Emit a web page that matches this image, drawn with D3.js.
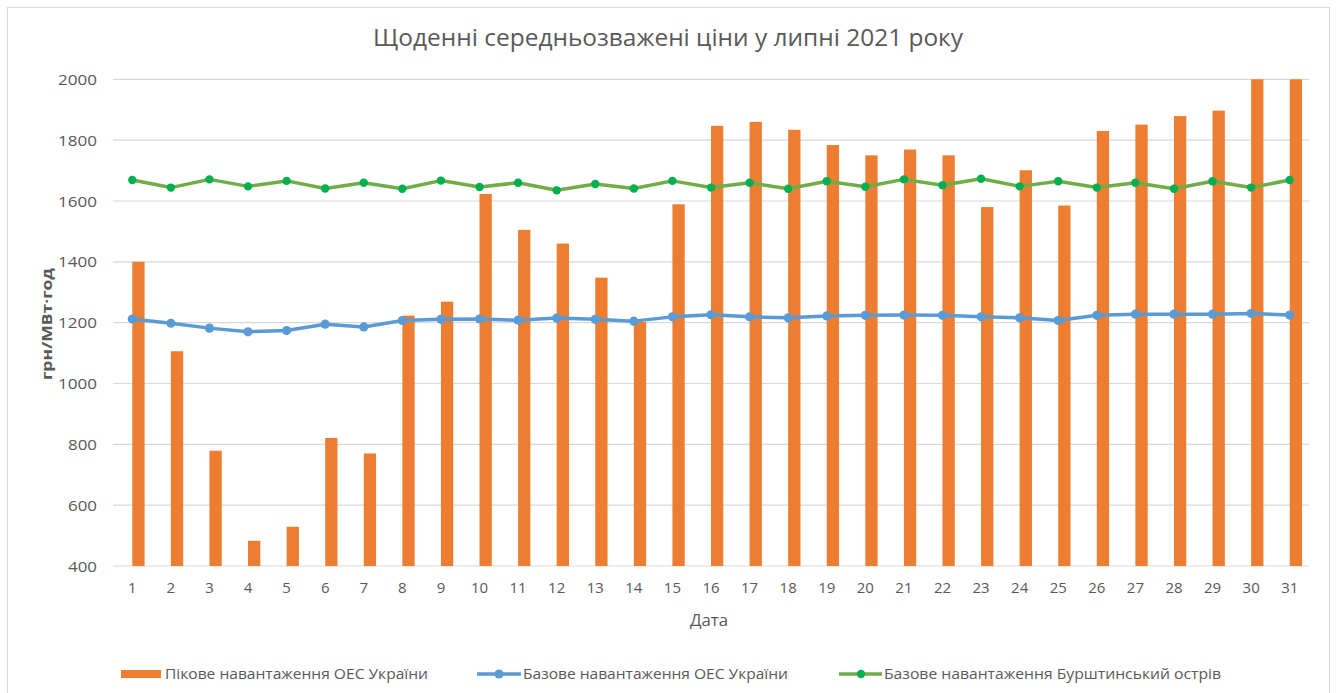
<!DOCTYPE html>
<html>
<head>
<meta charset="utf-8">
<script src="https://cdn.jsdelivr.net/npm/d3@7"></script>
<style>
  html, body { margin: 0; padding: 0; background: #ffffff; }
  svg { display: block; }
  text { font-family: "Open Sans", "DejaVu Sans", sans-serif; fill: #595959; }
</style>
</head>
<body>
<svg id="chart" width="1336" height="693"></svg>
<script>
const title = "Щоденні середньозважені ціни у липні 2021 року";
const yTitle = "грн/МВт·год";
const xTitle = "Дата";
const days = d3.range(1, 32).map(String);
const seriesNames = [
  "Пікове навантаження ОЕС України",
  "Базове навантаження ОЕС України",
  "Базове навантаження Бурштинський острів"
];
const peakUA = [1400, 1106, 779, 483, 529, 821, 770, 1223, 1269, 1623, 1505, 1460, 1348, 1202, 1589, 1847, 1860, 1834, 1784, 1750, 1769, 1750, 1580, 1701, 1585, 1830, 1851, 1879, 1897, 2000, 2000];
const baseUA = [1212, 1198, 1182, 1170, 1174, 1195, 1186, 1207, 1211, 1212, 1208, 1215, 1211, 1205, 1219, 1226, 1219, 1216, 1222, 1224, 1225, 1224, 1219, 1216, 1207, 1224, 1228, 1228, 1228, 1230, 1225];
const baseBurshtyn = [1669, 1644, 1671, 1648, 1666, 1641, 1660, 1640, 1667, 1646, 1660, 1635, 1656, 1641, 1666, 1644, 1660, 1640, 1665, 1647, 1671, 1652, 1673, 1648, 1665, 1644, 1660, 1640, 1665, 1644, 1669];
const yTicks = [400, 600, 800, 1000, 1200, 1400, 1600, 1800, 2000];

const colors = { peak: "#ED7D31", base: "#5B9BD5", burLine: "#70AD47", burDot: "#00B050" };

const svg = d3.select("#chart");

// outer frame
svg.append("rect").attr("x", 7.5).attr("y", 7.5).attr("width", 1322).attr("height", 700)
  .attr("fill", "#fff").attr("stroke", "#D9D9D9").attr("stroke-width", 1);

const x = d3.scaleBand().domain(days).range([113, 1309]).padding(0);
const y = d3.scaleLinear().domain([400, 2000]).range([566, 79.3]);
const cx = d => x(d) + x.bandwidth() / 2;

// gridlines
svg.append("g").selectAll("line").data(yTicks).join("line")
  .attr("x1", 113).attr("x2", 1309)
  .attr("y1", d => y(d)).attr("y2", d => y(d))
  .attr("stroke", "#D9D9D9").attr("stroke-width", 1.2);

// y axis labels
const yAxis = d3.axisLeft(y).tickValues(yTicks).tickSize(0).tickPadding(0).tickFormat(d3.format("d"));
const gy = svg.append("g").attr("transform", "translate(97,0)").call(yAxis);
gy.select(".domain").remove();
gy.selectAll("text").style("font-size", "15px").attr("fill", "#595959").attr("dy", "0.34em")
  .attr("textLength", 39).attr("lengthAdjust", "spacingAndGlyphs");
gy.selectAll("text").filter(d => d < 1000).attr("textLength", 29);

// x axis labels
const xAxis = d3.axisBottom(x).tickSize(0).tickPadding(0);
const gx = svg.append("g").attr("transform", "translate(0,582)").call(xAxis);
gx.select(".domain").remove();
gx.selectAll("text").style("font-size", "15px").attr("fill", "#595959").attr("dy", "0.71em");

// bars
const barW = 12.3;
svg.append("g").selectAll("rect").data(days).join("rect")
  .attr("x", (d) => cx(d))
  .attr("width", barW)
  .attr("y", (d, i) => y(peakUA[i]))
  .attr("height", (d, i) => y(400) - y(peakUA[i]))
  .attr("fill", colors.peak);

// lines
const line = d3.line().x(d => cx(d.day)).y(d => y(d.v));
const baseData = days.map((d, i) => ({ day: d, v: baseUA[i] }));
const burData = days.map((d, i) => ({ day: d, v: baseBurshtyn[i] }));

svg.append("path").datum(baseData).attr("d", line).attr("fill", "none")
  .attr("stroke", colors.base).attr("stroke-width", 3.5).attr("stroke-linejoin", "round");
svg.append("g").selectAll("circle").data(baseData).join("circle")
  .attr("cx", d => cx(d.day)).attr("cy", d => y(d.v)).attr("r", 4.6).attr("fill", colors.base);

svg.append("path").datum(burData).attr("d", line).attr("fill", "none")
  .attr("stroke", colors.burLine).attr("stroke-width", 3.5).attr("stroke-linejoin", "round");
svg.append("g").selectAll("circle").data(burData).join("circle")
  .attr("cx", d => cx(d.day)).attr("cy", d => y(d.v)).attr("r", 4.2).attr("fill", colors.burDot);

// title
svg.append("text").attr("x", 668).attr("y", 38).attr("text-anchor", "middle").attr("dy", "0.35em")
  .style("font-size", "24px").attr("textLength", 590).attr("lengthAdjust", "spacingAndGlyphs").text(title);

// axis titles
svg.append("text").attr("transform", "translate(47,324) rotate(-90)").attr("text-anchor", "middle")
  .attr("dy", "0.35em").style("font-size", "15px").style("font-weight", "bold")
  .attr("textLength", 112).attr("lengthAdjust", "spacingAndGlyphs").text(yTitle);
svg.append("text").attr("x", 709).attr("y", 620).attr("text-anchor", "middle").attr("dy", "0.35em")
  .style("font-size", "16px").attr("textLength", 38).attr("lengthAdjust", "spacingAndGlyphs").text(xTitle);

// legend
const ly = 674;
const leg = svg.append("g");
leg.append("rect").attr("x", 121).attr("y", ly - 4).attr("width", 40).attr("height", 8).attr("fill", colors.peak);
leg.append("text").attr("x", 165).attr("y", ly).attr("dy", "0.35em").style("font-size", "15px")
  .attr("textLength", 263).attr("lengthAdjust", "spacingAndGlyphs").text(seriesNames[0]);

leg.append("line").attr("x1", 477).attr("x2", 521).attr("y1", ly).attr("y2", ly)
  .attr("stroke", colors.base).attr("stroke-width", 3.5);
leg.append("circle").attr("cx", 499).attr("cy", ly).attr("r", 4.6).attr("fill", colors.base);
leg.append("text").attr("x", 523).attr("y", ly).attr("dy", "0.35em").style("font-size", "15px")
  .attr("textLength", 265).attr("lengthAdjust", "spacingAndGlyphs").text(seriesNames[1]);

leg.append("line").attr("x1", 839).attr("x2", 882).attr("y1", ly).attr("y2", ly)
  .attr("stroke", colors.burLine).attr("stroke-width", 3.5);
leg.append("circle").attr("cx", 861).attr("cy", ly).attr("r", 4.2).attr("fill", colors.burDot);
leg.append("text").attr("x", 884).attr("y", ly).attr("dy", "0.35em").style("font-size", "15px")
  .attr("textLength", 337).attr("lengthAdjust", "spacingAndGlyphs").text(seriesNames[2]);
</script>
</body>
</html>
